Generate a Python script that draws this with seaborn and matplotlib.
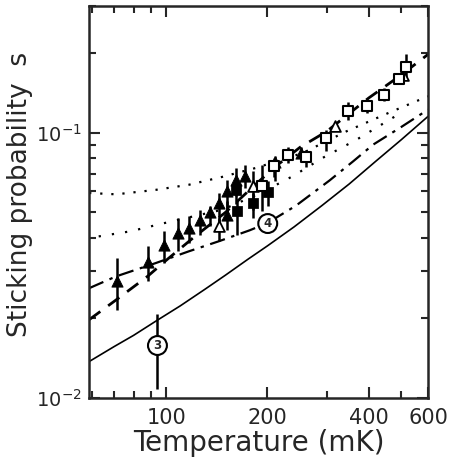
import numpy as np
import matplotlib
matplotlib.use("Agg")
import matplotlib.pyplot as plt
import seaborn as sns
from matplotlib.ticker import FixedLocator, NullFormatter, LogLocator

# theory / fit curves (temperature in mK, sticking probability)
solid_T = [59, 70, 80, 94, 110, 130, 150, 175, 200, 240, 290, 350, 420, 500, 600]
solid_s = [0.0137, 0.0156, 0.0172, 0.0196, 0.0222, 0.0256, 0.0290, 0.0333, 0.0374, 0.0441, 0.0530, 0.0640, 0.0780, 0.0940, 0.1150]

dashdot_T = [59, 71, 80, 93, 117, 144, 177, 200, 243, 306, 360, 412, 500, 600]
dashdot_s = [0.0259, 0.0287, 0.0302, 0.0322, 0.0357, 0.0390, 0.0428, 0.0456, 0.0530, 0.0660, 0.0780, 0.0900, 0.1050, 0.1220]

dashed_T = [59, 71, 88, 100, 120, 150, 180, 210, 250, 300, 350, 400, 500, 600]
dashed_s = [0.0197, 0.0234, 0.0287, 0.0330, 0.0400, 0.0500, 0.0620, 0.0740, 0.0880, 0.1010, 0.1180, 0.1350, 0.1650, 0.1970]

dot_up_T = [59, 71, 93, 117, 147, 185, 255, 343, 461, 600]
dot_up_s = [0.0592, 0.0585, 0.0608, 0.0636, 0.0681, 0.0736, 0.0838, 0.1010, 0.1190, 0.1370]

dot_lo_T = [63, 78, 104, 147, 190, 238, 292, 368, 441, 495]
dot_lo_s = [0.0406, 0.0424, 0.0463, 0.0512, 0.0590, 0.0685, 0.0803, 0.0940, 0.1080, 0.1180]

# filled triangles
ft_T = [71.3, 88.0, 98.6, 108.1, 117.1, 126.3, 135.3, 143.2, 151.3, 161.3, 171.6, 151.6, 210.9, 250.8]
ft_s = [0.0275, 0.0325, 0.0378, 0.0418, 0.0437, 0.0469, 0.0500, 0.0543, 0.0600, 0.0665, 0.0688, 0.0490, 0.0773, 0.0841]
ft_lo = [0.0215, 0.0275, 0.0322, 0.0357, 0.0383, 0.0412, 0.0443, 0.0463, 0.0500, 0.0575, 0.0618, 0.0430, 0.0655, 0.0800]
ft_hi = [0.0337, 0.0375, 0.0424, 0.0477, 0.0483, 0.0512, 0.0527, 0.0592, 0.0665, 0.0736, 0.0757, 0.0550, 0.0815, 0.0880]

# filled squares
fs_T = [161.3, 162.5, 181.7, 201.4]
fs_s = [0.0610, 0.0505, 0.0543, 0.0596]
fs_lo = [0.0540, 0.0412, 0.0477, 0.0527]
fs_hi = [0.0680, 0.0558, 0.0592, 0.0655]

# open triangles
ot_T = [143.2, 180.8, 317.5, 505.0]
ot_s = [0.0446, 0.0631, 0.1056, 0.1650]
ot_lo = [0.0389, 0.0512, 0.1056, 0.1650]
ot_hi = [0.0477, 0.0714, 0.1056, 0.1650]

# open squares
os_T = [192.3, 209.8, 230.2, 259.6, 297.8, 347.0, 396.3, 444.5, 492.5, 515.7]
os_s = [0.0631, 0.0746, 0.0820, 0.0810, 0.0955, 0.1210, 0.1260, 0.1390, 0.1585, 0.1760]
os_lo = [0.0505, 0.0680, 0.0770, 0.0740, 0.0850, 0.1120, 0.1180, 0.1310, 0.1520, 0.1580]
os_hi = [0.0757, 0.0800, 0.0880, 0.0860, 0.1020, 0.1300, 0.1340, 0.1470, 0.1650, 0.1970]

# circled single points
circ_labels = ["3", "4"]
circ_T = [94.2, 200.4]
circ_s = [0.01575, 0.0454]
circ_lo = [0.0108, 0.0454]
circ_hi = [0.0207, 0.0454]

sns.set_style("ticks")
plt.rcParams['font.family'] = ['DejaVu Sans']

fig = plt.figure(figsize=(4.5, 4.61), dpi=100)
ax = fig.add_axes([0.198, 0.137, 0.753, 0.850])

sns.lineplot(x=solid_T, y=solid_s, ax=ax, color='black', lw=1.2, sort=False, estimator=None)
sns.lineplot(x=dashdot_T, y=dashdot_s, ax=ax, color='black', lw=1.6, sort=False, estimator=None,
             linestyle=(0, (7, 3, 1.5, 3)))
sns.lineplot(x=dashed_T, y=dashed_s, ax=ax, color='black', lw=2.0, sort=False, estimator=None,
             linestyle=(0, (5, 3.5)))
sns.lineplot(x=dot_up_T, y=dot_up_s, ax=ax, color='black', lw=1.6, sort=False, estimator=None,
             linestyle=(0, (1, 4)))
sns.lineplot(x=dot_lo_T, y=dot_lo_s, ax=ax, color='black', lw=1.6, sort=False, estimator=None,
             linestyle=(0, (1, 5)))

# error bars
for T, s, lo, hi in [(ft_T, ft_s, ft_lo, ft_hi), (fs_T, fs_s, fs_lo, fs_hi),
                     (ot_T, ot_s, ot_lo, ot_hi), (os_T, os_s, os_lo, os_hi),
                     (circ_T, circ_s, circ_lo, circ_hi)]:
    s = np.array(s)
    err = [s - np.array(lo), np.array(hi) - s]
    ax.errorbar(T, s, yerr=err, fmt='none', ecolor='black', elinewidth=1.8, capsize=0, zorder=3)

sns.scatterplot(x=ft_T, y=ft_s, ax=ax, marker='^', s=65, color='black', edgecolor='black', zorder=4)
sns.scatterplot(x=fs_T, y=fs_s, ax=ax, marker='s', s=45, color='black', edgecolor='black', zorder=4)
sns.scatterplot(x=ot_T, y=ot_s, ax=ax, marker='^', s=60, color='white', edgecolor='black', linewidth=1.3, zorder=4)
sns.scatterplot(x=os_T, y=os_s, ax=ax, marker='s', s=55, color='white', edgecolor='black', linewidth=1.5, zorder=4)

for lab, T, s in zip(circ_labels, circ_T, circ_s):
    ax.text(T, s, lab, ha='center', va='center', fontsize=8.5, fontweight='bold', zorder=5,
            bbox=dict(boxstyle='circle,pad=0.25', fc='white', ec='black', lw=1.5))

ax.set_xscale('log')
ax.set_yscale('log')
ax.set_xlim(59, 600)
ax.set_ylim(0.01, 0.3)

ax.xaxis.set_major_locator(FixedLocator([100, 200, 400, 600]))
ax.set_xticklabels(['100', '200', '400', '600'])
ax.xaxis.set_minor_locator(FixedLocator([60, 70, 80, 90, 300, 500]))
ax.xaxis.set_minor_formatter(NullFormatter())
ax.yaxis.set_major_locator(FixedLocator([0.01, 0.1]))
ax.set_yticklabels([r'$10^{-2}$', r'$10^{-1}$'])
ax.yaxis.set_minor_locator(LogLocator(base=10, subs=np.arange(2, 10)))
ax.yaxis.set_minor_formatter(NullFormatter())

ax.tick_params(which='both', direction='in', top=True, right=True, width=1.5, pad=7)
ax.tick_params(axis='x', labelsize=15)
ax.tick_params(axis='y', labelsize=14, pad=5)
ax.tick_params(which='major', length=8)
ax.tick_params(which='minor', length=5)
for sp in ax.spines.values():
    sp.set_linewidth(1.8)

ax.set_xlabel('Temperature (mK)', fontsize=20, labelpad=1)
ax.set_ylabel('Sticking probability  s', fontsize=19)
ax.yaxis.set_label_coords(-0.165, 0.52)

fig.savefig('out.png', dpi=100)
